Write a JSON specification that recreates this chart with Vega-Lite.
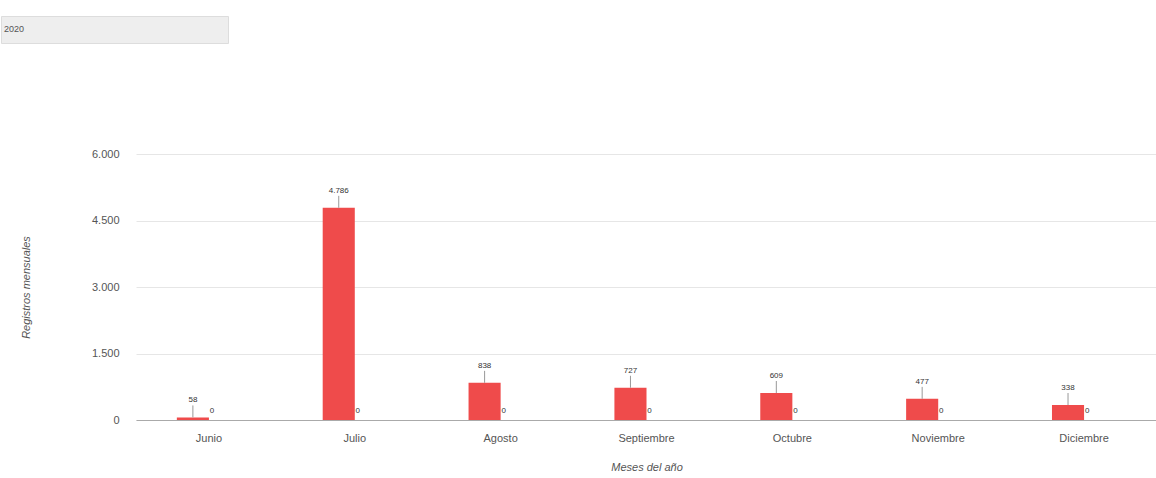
{
  "$schema": "https://vega.github.io/schema/vega-lite/v6.json",
  "padding": {"left": 0, "top": 15, "right": 0, "bottom": 0},
  "background": "white",
  "width": 1021,
  "height": 266,
  "config": {
    "font": "Liberation Sans",
    "view": {"stroke": null},
    "locale": {"number": {"decimal": ",", "thousands": ".", "grouping": [3], "currency": ["", " €"]}},
    "legend": {
      "orient": "none", "legendX": -135, "legendY": -138,
      "fillColor": "#eeeeee", "strokeColor": "#dddddd", "padding": 4,
      "symbolType": "M0,-4L0,14L214,14", "symbolSize": 4, "symbolOpacity": 0,
      "symbolFillColor": "transparent", "symbolStrokeColor": "transparent", "symbolStrokeWidth": 0,
      "labelFontSize": 9, "labelColor": "#555555", "labelOffset": -10, "labelBaseline": "top"
    }
  },
  "data": {
    "values": [
      {"mes": "Junio", "anio": "2020", "serie": "Registros", "valor": 58},
      {"mes": "Junio", "anio": "2020", "serie": "Otros", "valor": 0},
      {"mes": "Julio", "anio": "2020", "serie": "Registros", "valor": 4786},
      {"mes": "Julio", "anio": "2020", "serie": "Otros", "valor": 0},
      {"mes": "Agosto", "anio": "2020", "serie": "Registros", "valor": 838},
      {"mes": "Agosto", "anio": "2020", "serie": "Otros", "valor": 0},
      {"mes": "Septiembre", "anio": "2020", "serie": "Registros", "valor": 727},
      {"mes": "Septiembre", "anio": "2020", "serie": "Otros", "valor": 0},
      {"mes": "Octubre", "anio": "2020", "serie": "Registros", "valor": 609},
      {"mes": "Octubre", "anio": "2020", "serie": "Otros", "valor": 0},
      {"mes": "Noviembre", "anio": "2020", "serie": "Registros", "valor": 477},
      {"mes": "Noviembre", "anio": "2020", "serie": "Otros", "valor": 0},
      {"mes": "Diciembre", "anio": "2020", "serie": "Registros", "valor": 338},
      {"mes": "Diciembre", "anio": "2020", "serie": "Otros", "valor": 0}
    ]
  },
  "encoding": {
    "x": {
      "field": "mes", "type": "nominal",
      "sort": ["Junio", "Julio", "Agosto", "Septiembre", "Octubre", "Noviembre", "Diciembre"],
      "scale": {"paddingInner": 0.56, "paddingOuter": 0.28},
      "axis": {
        "title": "Meses del año", "titleFontStyle": "italic", "titleFontWeight": "normal",
        "titleFontSize": 11, "titleColor": "#555555", "titlePadding": 18,
        "labelAngle": 0, "labelFontSize": 11, "labelColor": "#555555",
        "ticks": false, "tickSize": 0, "labelPadding": 12,
        "domainColor": "#aaaaaa", "grid": false
      }
    },
    "xOffset": {"field": "serie", "type": "nominal", "sort": ["Registros", "Otros"]},
    "y": {
      "field": "valor", "type": "quantitative",
      "scale": {"domain": [0, 6000]},
      "axis": {
        "title": "Registros mensuales", "titleFontStyle": "italic", "titleFontWeight": "normal",
        "titleFontSize": 11, "titleColor": "#555555", "titlePadding": 60,
        "values": [0, 1500, 3000, 4500, 6000], "format": ",.0f",
        "labelFontSize": 11, "labelColor": "#555555",
        "ticks": false, "tickSize": 0, "labelPadding": 17,
        "domain": false, "gridColor": "#e6e6e6"
      }
    }
  },
  "layer": [
    {
      "mark": {"type": "bar"},
      "encoding": {
        "color": {"field": "anio", "type": "nominal", "scale": {"range": ["#ef4b4b"]}, "legend": {"title": null, "symbolOpacity": 0}}
      }
    },
    {
      "transform": [{"filter": "datum.serie == 'Registros'"}],
      "mark": {"type": "point", "shape": "M0,0L0,-2", "size": 144, "filled": false, "stroke": "#999999", "strokeWidth": 1, "opacity": 1}
    },
    {
      "transform": [{"filter": "datum.serie == 'Registros'"}],
      "mark": {"type": "text", "baseline": "bottom", "dy": -13, "fontSize": 8, "color": "#333333"},
      "encoding": {"text": {"field": "valor", "type": "quantitative", "format": ",.0f"}}
    },
    {
      "transform": [{"filter": "datum.serie == 'Otros'"}],
      "mark": {"type": "text", "baseline": "bottom", "dx": -13, "dy": -5, "fontSize": 8, "color": "#333333"},
      "encoding": {"text": {"field": "valor", "type": "quantitative", "format": ",.0f"}}
    }
  ]
}
